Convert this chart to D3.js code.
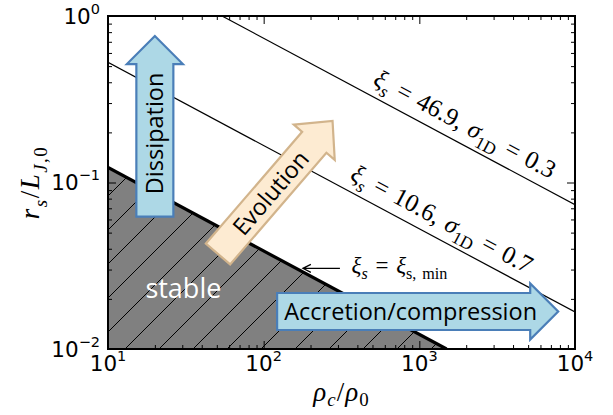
<!DOCTYPE html>
<html>
<head>
<meta charset="utf-8">
<script src="https://cdn.jsdelivr.net/npm/d3@7"></script>
<style>
  body { margin: 0; background: #fff; }
  svg { display: block; }
</style>
</head>
<body>
<svg id="chart" width="613" height="415"></svg>
<script>
// ---- axis extents and tick labels (log-log) ----
const xDomain = [10, 1e4];
const yDomain = [0.01, 1];
const xTickValues = [1e1, 1e2, 1e3, 1e4];
const xTickExponents = ["1", "2", "3", "4"];
const yTickValues = [1e-2, 1e-1, 1e0];
const yTickExponents = ["\u22122", "\u22121", "0"];

// ---- stability boundary xi_s = xi_s,min (r_s ~ rho_c^-1/2) ----
const minRho = [10, 1496];
const minR = [0.123, 0.01];

// ---- constant-xi_s curves ----
const curve106Rho = [10, 1e4];
const curve106R = [0.527, 0.01667];
const curve469Rho = [54, 1e4];
const curve469R = [1.0, 0.0735];

// ---- schematic arrows: tail and tip in data coordinates ----
const arrowNames = ["Dissipation", "Evolution", "Accretion/compression"];
const arrowTailRho = [20, 50.9, 122];
const arrowTailR = [0.0623, 0.0372, 0.0168];
const arrowTipRho = [20, 277, 7800];
const arrowTipR = [0.758, 0.234, 0.0168];

// ---- layout ----
const plot = { left: 108, top: 16, right: 575, bottom: 349 };

const svg = d3.select("#chart");
const x = d3.scaleLog().domain(xDomain).range([plot.left, plot.right]);
const y = d3.scaleLog().domain(yDomain).range([plot.bottom, plot.top]);

const defs = svg.append("defs");
defs.append("clipPath").attr("id", "plotClip")
  .append("rect")
  .attr("x", plot.left).attr("y", plot.top)
  .attr("width", plot.right - plot.left).attr("height", plot.bottom - plot.top);

// diagonal "/" hatch
const hs = 34;
const pat = defs.append("pattern").attr("id", "hatch")
  .attr("patternUnits", "userSpaceOnUse")
  .attr("x", -2).attr("y", 0)
  .attr("width", hs).attr("height", hs);
pat.append("path")
  .attr("d", `M0,${hs} L${hs},0 M-2,2 L2,-2 M${hs - 2},${hs + 2} L${hs + 2},${hs - 2}`)
  .attr("stroke", "#000").attr("stroke-width", 1).attr("fill", "none");

const gPlot = svg.append("g").attr("clip-path", "url(#plotClip)");

// stable region below the boundary
const regionPts = [[minRho[0], minR[0]], [minRho[1], minR[1]], [minRho[0], minR[1]]];
const line = d3.line().x(d => x(d[0])).y(d => y(d[1]));
gPlot.append("path").attr("d", line(regionPts) + "Z").attr("fill", "#808080");
gPlot.append("path").attr("d", line(regionPts) + "Z").attr("fill", "url(#hatch)");

const zip = (a, b) => a.map((v, i) => [v, b[i]]);

gPlot.append("path").attr("d", line(zip(curve106Rho, curve106R)))
  .attr("fill", "none").attr("stroke", "#000").attr("stroke-width", 1.2);
gPlot.append("path").attr("d", line(zip(curve469Rho, curve469R)))
  .attr("fill", "none").attr("stroke", "#000").attr("stroke-width", 1.2);
gPlot.append("path").attr("d", line(zip(minRho, minR)))
  .attr("fill", "none").attr("stroke", "#000").attr("stroke-width", 3.2);

// ---- math-style text helper ----
const SERIF = "'Liberation Serif', 'DejaVu Serif', serif";
function mathText(sel, parts, size, subShift = 0.28) {
  let shift = 0;
  parts.forEach(p => {
    const [txt, style, pos] = p;
    const target = pos === "sub" ? size * subShift : pos === "sup" ? -size * 0.4 : 0;
    sel.append("tspan").text(txt)
      .attr("font-style", style === "i" ? "italic" : "normal")
      .attr("font-size", pos ? size * 0.7 : size)
      .attr("dy", target - shift);
    shift = target;
  });
}

// curve labels along the lines
function curveLabel(rhoArr, rArr, rhoAt, parts, size, offset) {
  const t = (Math.log10(rhoAt) - Math.log10(rhoArr[0])) / (Math.log10(rhoArr[1]) - Math.log10(rhoArr[0]));
  const rAt = Math.pow(10, Math.log10(rArr[0]) + t * (Math.log10(rArr[1]) - Math.log10(rArr[0])));
  const ang = Math.atan2(y(rArr[1]) - y(rArr[0]), x(rhoArr[1]) - x(rhoArr[0])) * 180 / Math.PI;
  const g = svg.append("g")
    .attr("transform", `translate(${x(rhoAt)},${y(rAt)}) rotate(${ang}) translate(0,${offset})`);
  const t2 = g.append("text").attr("text-anchor", "middle")
    .attr("font-family", SERIF).attr("font-size", size).attr("fill", "#000")
    .attr("word-spacing", 2);
  mathText(t2, parts, size);
}
curveLabel(curve469Rho, curve469R, 1718,
  [["\u03BE", "i"], ["s", "i", "sub"], [" = 46.9,  ", "r"], ["\u03C3", "i"], ["1D", "r", "sub"], [" = 0.3", "r"]],
  25, -11);
curveLabel(curve106Rho, curve106R, 1222,
  [["\u03BE", "i"], ["s", "i", "sub"], [" = 10.6,  ", "r"], ["\u03C3", "i"], ["1D", "r", "sub"], [" = 0.7", "r"]],
  25, -11);

// annotation pointing at the boundary
const annTip = [178.6, 0.0305], annTail = [309, 0.0305];
{
  const x0 = x(annTail[0]), y0 = y(annTail[1]), x1 = x(annTip[0]), y1 = y(annTip[1]);
  svg.append("path")
    .attr("d", `M${x0},${y0} L${x1},${y1} M${x1 + 8},${y1 - 4} L${x1},${y1} L${x1 + 8},${y1 + 4}`)
    .attr("fill", "none").attr("stroke", "#000").attr("stroke-width", 1.2);
  const t = svg.append("text").attr("x", x(367)).attr("y", y(0.0286))
    .attr("font-family", SERIF).attr("font-size", 23).attr("fill", "#000")
    .attr("word-spacing", 2);
  mathText(t, [["\u03BE", "i"], ["s", "i", "sub"], [" = ", "r"], ["\u03BE", "i"], ["s, min", "r", "sub"]], 23);
}

// "stable" label
svg.append("text").attr("x", x(30.5)).attr("y", y(0.0202))
  .attr("text-anchor", "middle").attr("font-family", "'Open Sans', sans-serif")
  .attr("font-size", 27).attr("fill", "#fff").text("stable");

// ---- schematic arrows ----
const arrowStyle = [
  { fill: "#add8e6", stroke: "#4a7eb8", bw: 18.5, hw: 28, hl: 28 },
  { fill: "#fdebd2", stroke: "#d2b48c", bw: 16, hw: 27, hl: 28 },
  { fill: "#add8e6", stroke: "#4a7eb8", bw: 18.5, hw: 28, hl: 28 }
];
arrowNames.forEach((name, i) => {
  const s = arrowStyle[i];
  const x0 = x(arrowTailRho[i]), y0 = y(arrowTailR[i]);
  const x1 = x(arrowTipRho[i]), y1 = y(arrowTipR[i]);
  const L = Math.hypot(x1 - x0, y1 - y0);
  const ang = Math.atan2(y1 - y0, x1 - x0) * 180 / Math.PI;
  const b = L - s.hl;
  const pts = [[0, -s.bw], [b, -s.bw], [b, -s.hw], [L, 0], [b, s.hw], [b, s.bw], [0, s.bw]];
  const g = svg.append("g").attr("transform", `translate(${x0},${y0}) rotate(${ang})`);
  g.append("path").attr("d", "M" + pts.map(p => p.join(",")).join("L") + "Z")
    .attr("fill", s.fill).attr("stroke", s.stroke).attr("stroke-width", 2.2)
    .attr("stroke-linejoin", "miter");
  g.append("text").attr("x", b / 2 + 7).attr("y", 0).attr("dy", "0.36em")
    .attr("text-anchor", "middle").attr("font-family", "'Open Sans', sans-serif")
    .attr("font-size", 23.5).attr("fill", "#000").text(name);
});

// ---- axes: inward ticks on all four sides ----
const minorX = x.ticks().filter(v => !xTickValues.includes(v));
const minorY = y.ticks().filter(v => !yTickValues.some(t => Math.abs(t - v) / v < 1e-9));

function drawAxis(axisFn, scale, values, size, tx, ty) {
  const g = svg.append("g").attr("transform", `translate(${tx},${ty})`)
    .call(axisFn(scale).tickValues(values).tickSize(size).tickFormat(""));
  g.select(".domain").remove();
  g.selectAll(".tick line").attr("stroke", "#000").attr("stroke-width", 1);
}
[[minorX, -4], [xTickValues, -8]].forEach(([v, s]) => {
  drawAxis(d3.axisBottom, x, v, s, 0, plot.bottom);
  drawAxis(d3.axisTop, x, v, s, 0, plot.top);
});
[[minorY, -4], [yTickValues, -8]].forEach(([v, s]) => {
  drawAxis(d3.axisLeft, y, v, s, plot.left, 0);
  drawAxis(d3.axisRight, y, v, s, plot.right, 0);
});

svg.append("rect")
  .attr("x", plot.left).attr("y", plot.top)
  .attr("width", plot.right - plot.left).attr("height", plot.bottom - plot.top)
  .attr("fill", "none").attr("stroke", "#000").attr("stroke-width", 2);

// tick labels 10^n
const SANS = "'DejaVu Sans', sans-serif";
xTickValues.forEach((v, i) => {
  const t = svg.append("text").attr("x", x(v)).attr("y", 371)
    .attr("text-anchor", "middle").attr("font-family", SANS).attr("font-size", 21.5);
  t.append("tspan").text("10");
  t.append("tspan").text(xTickExponents[i]).attr("font-size", 14.5).attr("dy", -10);
});
yTickValues.forEach((v, i) => {
  const t = svg.append("text").attr("x", 100).attr("y", y(v) + 7.5)
    .attr("text-anchor", "end").attr("font-family", SANS).attr("font-size", 21.5);
  t.append("tspan").text("10");
  t.append("tspan").text(yTickExponents[i]).attr("font-size", 14.5).attr("dy", -10);
});

// axis titles
{
  const t = svg.append("text").attr("x", (plot.left + plot.right) / 2).attr("y", 401)
    .attr("text-anchor", "middle").attr("font-family", SERIF).attr("font-size", 27)
    .attr("letter-spacing", 1);
  mathText(t, [["\u03C1", "i"], ["c", "i", "sub"], ["/", "r"], ["\u03C1", "i"], ["0", "r", "sub"]], 27, 0.2);
}
{
  const g = svg.append("g").attr("transform", `translate(39,${(plot.top + plot.bottom) / 2}) rotate(-90)`);
  const t = g.append("text").attr("text-anchor", "middle").attr("font-family", SERIF).attr("font-size", 27)
    .attr("letter-spacing", 1.5);
  mathText(t, [["r", "i"], ["s", "i", "sub"], ["/", "r"], ["L", "i"], ["J", "i", "sub"], [",0", "r", "sub"]], 27);
}
</script>
</body>
</html>
